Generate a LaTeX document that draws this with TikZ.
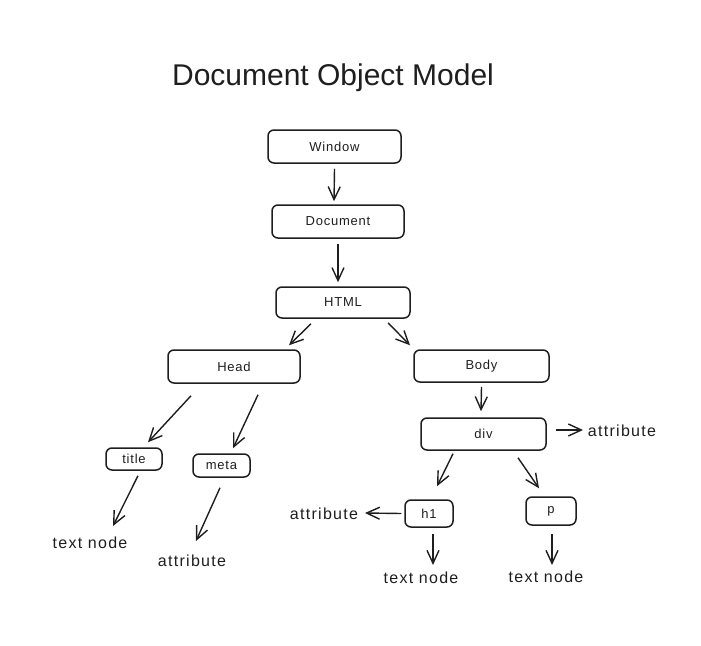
\documentclass[tikz,border=0pt]{standalone}
\usepackage{fontspec}
\setmainfont{Liberation Sans}
\usepackage{tikz}
\usetikzlibrary{arrows.meta}
\definecolor{ink}{HTML}{1E1E1E}

\begin{document}
\begin{tikzpicture}[x=1pt, y=-1pt, color=ink,
        box/.style={draw, line width=1.5pt, rounded corners=6pt, inner sep=0pt, font=\fontsize{13}{15}\selectfont\addfontfeature{LetterSpace=6}},
        link/.style={line width=1.4pt, -{Straight Barb[length=13pt, width=12pt, line width=1.4pt]}},
        lbl/.style={inner sep=1pt, font=\fontsize{16}{18}\selectfont\addfontfeature{LetterSpace=8}}]
        \useasboundingbox (0,0) rectangle (701,645);
        \node (model) at (333,78) {\fontsize{30}{34}\selectfont Document Object Model};
        \node[box, minimum width=133pt, minimum height=33pt] (win) at (334.5,146.5) {Window};
        \node[box, minimum width=132pt, minimum height=33pt] (doc) at (338,221.5) {Document};
        \node[box, minimum width=134pt, minimum height=31pt] (html) at (343,302.5) {HTML};
        \node[box, minimum width=132pt, minimum height=33pt] (head) at (234,366.5) {Head};
        \node[box, minimum width=135pt, minimum height=32pt] (body) at (481.5,366) {Body};
        \node[box, minimum width=125pt, minimum height=32pt] (div) at (483.5,434) {div};
        \node[box, minimum width=56pt, minimum height=22pt] (title) at (134,459) {title};
        \node[box, minimum width=57pt, minimum height=23pt] (meta) at (221.5,465.5) {meta};
        \node[box, minimum width=48pt, minimum height=27pt] (h1) at (429,513.5) {h1};
        \node[box, minimum width=50pt, minimum height=28pt] (p) at (551,511) {p};
        \node[lbl] (divattr) at (622,431) {attribute};
        \node[lbl] (h1attr) at (324,514) {attribute};
        \node[lbl] (metaattr) at (192,561) {attribute};
        \node[lbl] (titletext) at (90,543) {text node};
        \node[lbl] (h1text) at (421,578) {text node};
        \node[lbl] (ptext) at (546,577) {text node};
        \draw[link] ([shift={(0,5)}]win.south) -- ([shift={(-4,-3)}]doc.north);
        \draw[link] ([shift={(0,5)}]doc.south) -- ([shift={(-5,-4)}]html.north);
        \draw[link] ([shift={(-32,5)}]html.south) -- ([shift={(55,-4)}]head.north);
        \draw[link] ([shift={(45,4)}]html.south) -- ([shift={(-71.5,-4)}]body.north);
        \draw[link] ([shift={(-43,12)}]head.south) -- ([shift={(14,-5)}]title.north);
        \draw[link] ([shift={(24,11)}]head.south) -- ([shift={(11.5,-5)}]meta.north);
        \draw[link] ([shift={(4,5)}]title.south) -- ([shift={(23,-17)}]titletext.center);
        \draw[link] ([shift={(-1.5,10)}]meta.south) -- ([shift={(4,-20)}]metaattr.center);
        \draw[link] ([shift={(0,4)}]body.south) -- ([shift={(-2.5,-6)}]div.north);
        \draw[link] ([shift={(9,-4)}]div.east) -- ([shift={(-39,-1)}]divattr.center);
        \draw[link] ([shift={(-30.5,3)}]div.south) -- ([shift={(8,-13)}]h1.north);
        \draw[link] ([shift={(34.5,7)}]div.south) -- ([shift={(-12,-8)}]p.north);
        \draw[link] ([shift={(-3,0)}]h1.west) -- ([shift={(41,-1)}]h1attr.center);
        \draw[link] ([shift={(4,6)}]h1.south) -- ([shift={(12,-13)}]h1text.center);
        \draw[link] ([shift={(1,8)}]p.south) -- ([shift={(6,-12)}]ptext.center);
    \end{tikzpicture}
\end{document}
